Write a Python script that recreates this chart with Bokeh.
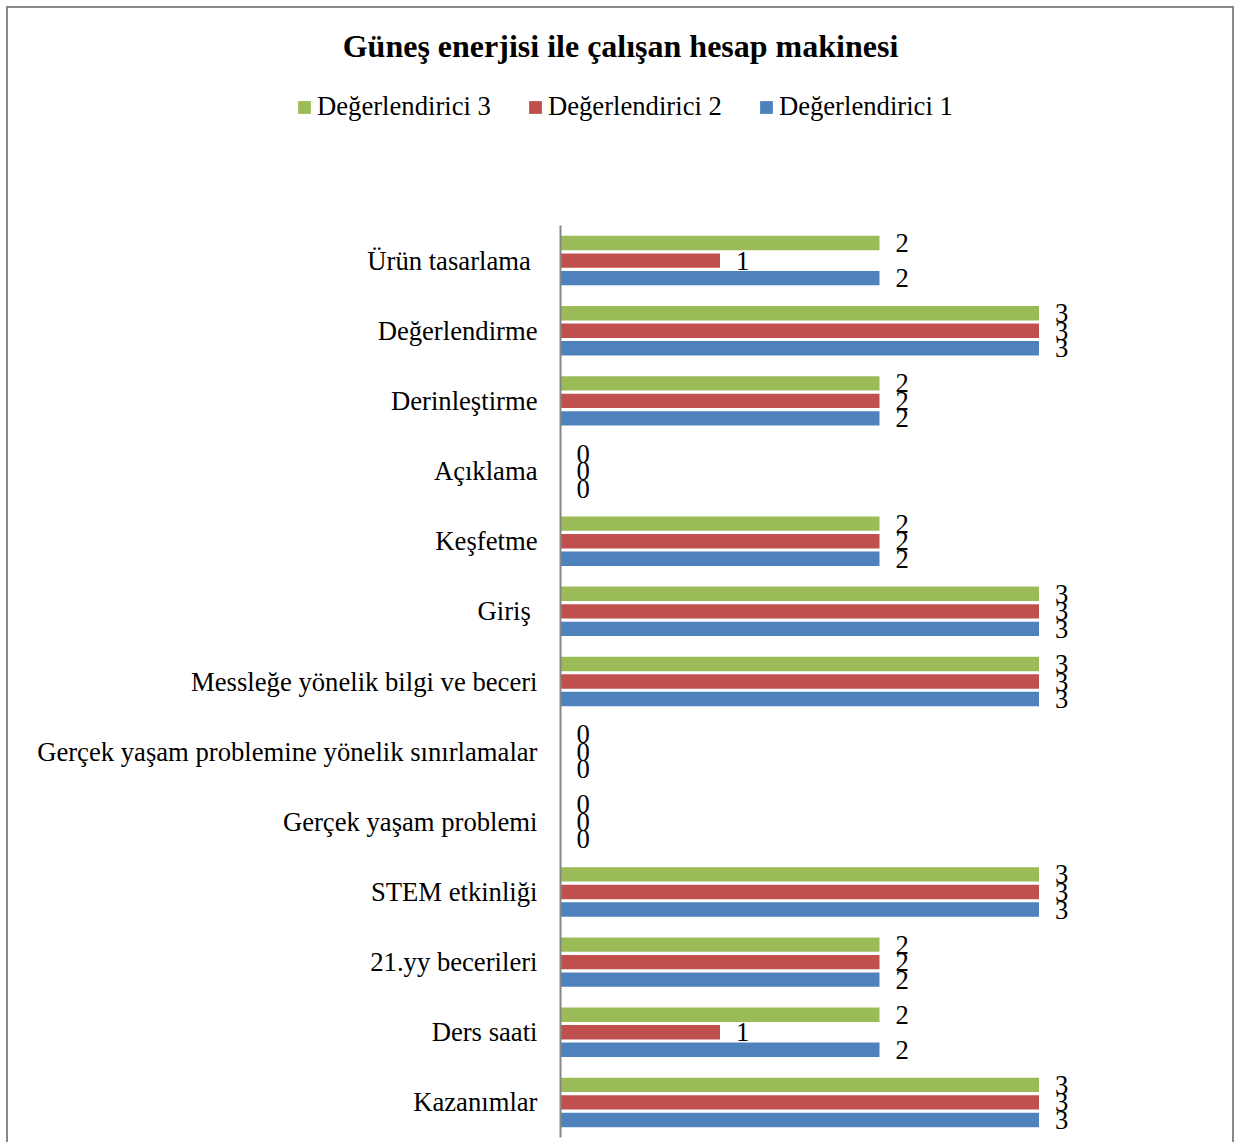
from bokeh.plotting import figure
from bokeh.models import FactorRange, Range1d, ColumnDataSource, Legend, LegendItem, Label
from bokeh.transform import dodge
from bokeh.core.properties import value
from bokeh.embed import file_html
from bokeh.resources import INLINE

title = "Güneş enerjisi ile çalışan hesap makinesi"
categories = ["Ürün tasarlama ", "Değerlendirme", "Derinleştirme", "Açıklama", "Keşfetme",
              "Giriş ", "Messleğe yönelik bilgi ve beceri",
              "Gerçek yaşam problemine yönelik sınırlamalar", "Gerçek yaşam problemi",
              "STEM etkinliği", "21.yy becerileri", "Ders saati", "Kazanımlar"]
series_names = ["Değerlendirici 3", "Değerlendirici 2", "Değerlendirici 1"]
d3 = [2, 3, 2, 0, 2, 3, 3, 0, 0, 3, 2, 2, 3]
d2 = [1, 3, 2, 0, 2, 3, 3, 0, 0, 3, 2, 1, 3]
d1 = [2, 3, 2, 0, 2, 3, 3, 0, 0, 3, 2, 2, 3]
colors = ["#9BBB59", "#C0504D", "#4F81BD"]

FONT = "Liberation Serif"
FS = "26.67px"
BORDER = "2px solid #888888"

src = ColumnDataSource(dict(cat=categories, d3=d3, d2=d2, d1=d1,
                            l3=[str(v) for v in d3], l2=[str(v) for v in d2], l1=[str(v) for v in d1]))

# ---------- header: title + legend ----------
h = figure(width=1224, height=217, x_range=Range1d(100, 101), y_range=Range1d(100, 101),
           output_backend="svg", toolbar_location=None,
           min_border_left=0, min_border_right=0, min_border_top=0, min_border_bottom=0)
h.outline_line_color = None
h.xaxis.visible = False
h.yaxis.visible = False
h.xgrid.visible = False
h.ygrid.visible = False

keys = ["d3", "d2", "d1"]
lkeys = ["l3", "l2", "l1"]
proxies = []
for key, col in zip(keys, colors):
    r = h.hbar(y=key, right=key, left=key, height=0.2, source=src,
               fill_color=col, line_color=None)
    proxies.append(r)

items = [LegendItem(label=series_names[i], renderers=[proxies[i]]) for i in range(3)]
legend = Legend(items=items, orientation="horizontal", location=(288, 105),
                padding=0, margin=0, spacing=36, glyph_width=16, glyph_height=16,
                label_standoff=5, label_text_font=FONT, label_text_font_size=FS,
                label_text_color="black",
                border_line_color=None, background_fill_alpha=0)
h.add_layout(legend)

h.add_layout(Label(x=612, y=182, x_units="screen", y_units="screen", text=title,
                   text_align="center", text_baseline="middle", text_font=FONT,
                   text_font_style="bold", text_font_size="32px", text_color="black"))

h.styles = {"box-sizing": "content-box", "margin-left": "6px", "margin-top": "6px",
            "border-top": BORDER, "border-left": BORDER, "border-right": BORDER}

# ---------- main chart ----------
p = figure(width=1224, height=917,
           y_range=FactorRange(factors=list(reversed(categories))),
           x_range=Range1d(0, 4),
           output_backend="svg", toolbar_location=None,
           min_border_left=552, min_border_top=0, min_border_bottom=5, min_border_right=38)
p.outline_line_color = None
p.xgrid.visible = False
p.ygrid.visible = False
p.xaxis.visible = False

yax = p.yaxis[0]
yax.axis_line_color = "#868686"
yax.axis_line_width = 2
yax.major_tick_line_color = None
yax.minor_tick_line_color = None
yax.major_tick_out = 0
yax.major_tick_in = 0
yax.major_label_standoff = 23
yax.major_label_text_font = FONT
yax.major_label_text_font_size = FS
yax.major_label_text_color = "black"

offsets = [0.25, 0.0, -0.25]
for key, lk, off, col in zip(keys, lkeys, offsets, colors):
    p.hbar(y=dodge("cat", off, range=p.y_range), right=key, left=0, height=0.205,
           source=src, fill_color=col, line_color=None)
    p.text(x=key, y=dodge("cat", off, range=p.y_range), text=lk, source=src,
           x_offset=16, text_align="left", text_baseline="middle",
           text_font=value(FONT), text_font_size=FS, text_color="black")

p.styles = {"box-sizing": "content-box", "margin-left": "6px",
            "border-left": BORDER, "border-right": BORDER}

open("out.html", "w").write(file_html([h, p], INLINE))
